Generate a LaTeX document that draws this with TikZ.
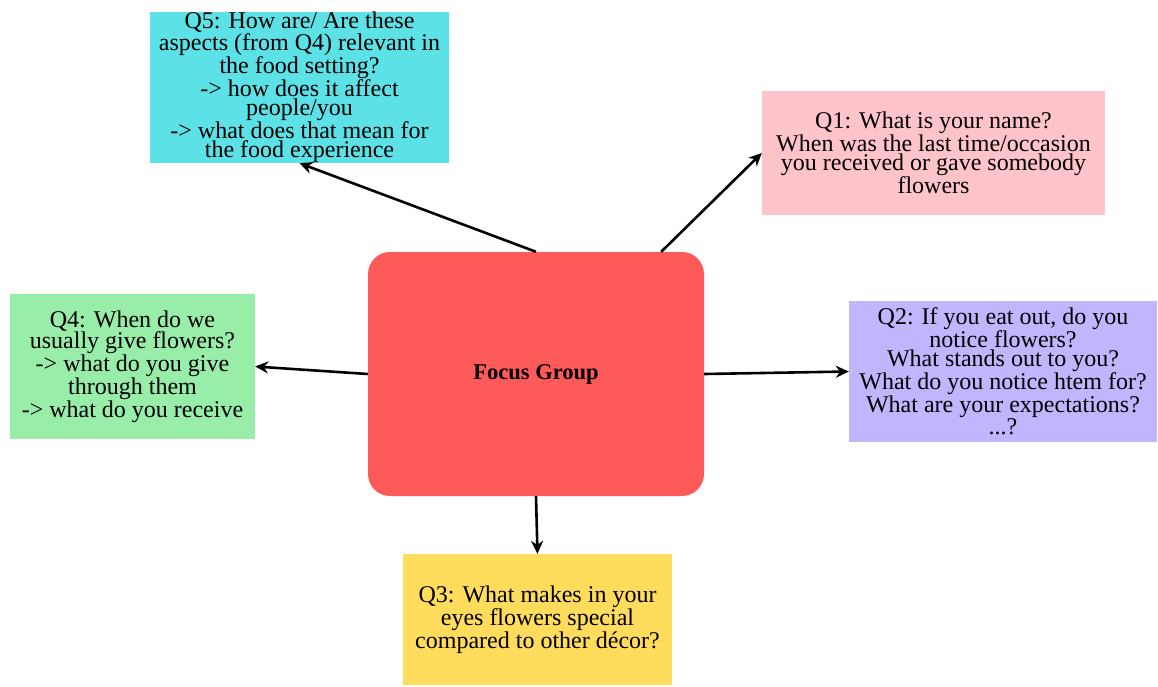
\documentclass[tikz,border=0pt]{standalone}
\usepackage{fontspec}
\setmainfont{Liberation Serif}
\usetikzlibrary{arrows.meta,calc}
\definecolor{cq5}{HTML}{5CE1E6}
\definecolor{cq1}{HTML}{FFC4CA}
\definecolor{cq2}{HTML}{C1B5FE}
\definecolor{cq4}{HTML}{98EDA8}
\definecolor{cq3}{HTML}{FFDC5C}
\definecolor{cfg}{HTML}{FF5A5A}
\tikzset{
  qbox/.style={rectangle, inner sep=0pt, align=center, font=\fontsize{24}{19}\selectfont},
  arr/.style={-{Stealth[length=13pt,width=12pt]}, line width=2.6pt, black},
}
\begin{document}
\begin{tikzpicture}[x=1pt,y=-1pt]
\useasboundingbox (0,0) rectangle (1158,686);
\fill[white] (0,0) rectangle (1158,686);
\node[rectangle, rounded corners=22pt, fill=cfg, minimum width=336pt, minimum height=244pt, inner sep=0pt, font=\fontsize{22.5}{24}\selectfont\bfseries] (fg) at (536,374) {Focus Group};
\node[qbox, fill=cq5, minimum width=299pt, minimum height=151pt] (q5) at (299.5,87.5) {Q5: How are/ Are these\\aspects (from Q4) relevant in\\the food setting?\\-> how does it affect\\people/you\\-> what does that mean for\\the food experience};
\node[qbox, fill=cq1, minimum width=343pt, minimum height=124pt] (q1) at (933.5,153) {Q1: What is your name?\\When was the last time/occasion\\you received or gave somebody\\flowers};
\node[qbox, fill=cq2, minimum width=308pt, minimum height=141pt] (q2) at (1003,371.5) {Q2: If you eat out, do you\\notice flowers?\\What stands out to you?\\What do you notice htem for?\\What are your expectations?\\...?};
\node[qbox, fill=cq4, minimum width=245pt, minimum height=145pt] (q4) at (132.5,366.5) {Q4: When do we\\usually give flowers?\\-> what do you give\\through them\\-> what do you receive};
\node[qbox, fill=cq3, minimum width=269pt, minimum height=131pt] (q3) at (537.5,619.5) {Q3: What makes in your\\eyes flowers special\\compared to other d\'ecor?};
\draw[arr] (fg.north) -- (q5.south);
\draw[arr] ($(fg.north east)+(-43,0)$) -- (q1.west);
\draw[arr] (fg.east) -- (q2.west);
\draw[arr] (fg.west) -- (q4.east);
\draw[arr] (fg.south) -- (q3.north);
\end{tikzpicture}
\end{document}
